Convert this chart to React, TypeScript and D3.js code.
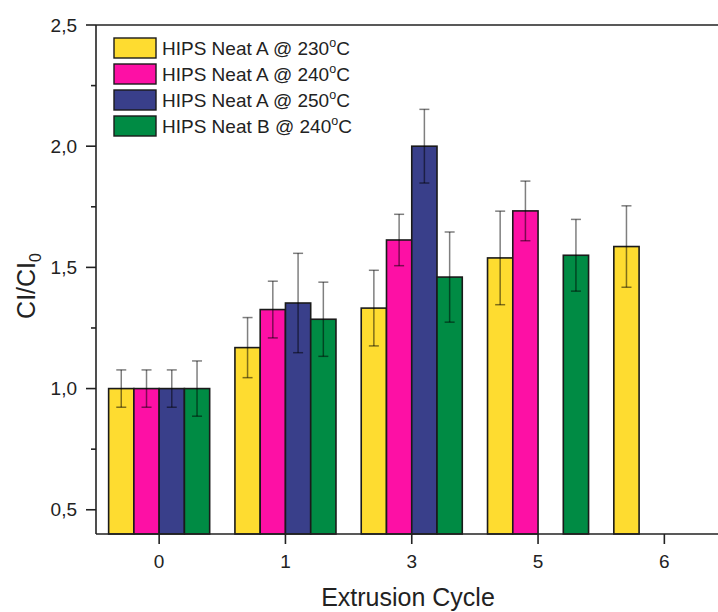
import React from "react";
import * as d3 from "d3";

const cycles = ["0", "1", "3", "5", "6"];
const seriesNames = [
  "HIPS Neat A @ 230",
  "HIPS Neat A @ 240",
  "HIPS Neat A @ 250",
  "HIPS Neat B @ 240",
];
const seriesColors = ["#FEDC30", "#FD10A5", "#393F8A", "#008B44"];

// null = not measured for that cycle
const neatA230 = [1.0, 1.169, 1.332, 1.539, 1.586];
const neatA240 = [1.0, 1.326, 1.613, 1.733, null];
const neatA250 = [1.0, 1.353, 2.0, null, null];
const neatB240 = [1.0, 1.286, 1.46, 1.55, null];

const errA230 = [0.077, 0.124, 0.156, 0.193, 0.168];
const errA240 = [0.077, 0.117, 0.106, 0.123, null];
const errA250 = [0.077, 0.205, 0.152, null, null];
const errB240 = [0.114, 0.153, 0.186, 0.148, null];

const values = [neatA230, neatA240, neatA250, neatB240];
const errors = [errA230, errA240, errA250, errB240];

const yTicks = [0.5, 1.0, 1.5, 2.0, 2.5];
const yMinorTicks = [0.75, 1.25, 1.75, 2.25];

const W = 718;
const H = 612;
const left = 96;
const top = 25;
const bottom = 534;

export default function App() {
  const x = d3
    .scaleBand<string>()
    .domain(cycles)
    .range([left, left + 5 * 126.3])
    .paddingInner(0.2)
    .paddingOuter(0.1);
  const xs = d3
    .scaleBand<number>()
    .domain(d3.range(seriesNames.length))
    .range([0, x.bandwidth()]);
  const y = d3.scaleLinear().domain([0.4, 2.5]).range([bottom, top]);
  const fmt = (v: number) => d3.format(".1f")(v).replace(".", ",");
  const font = "Liberation Sans, Arial, sans-serif";

  const bars: React.ReactNode[] = [];
  const errs: React.ReactNode[] = [];
  values.forEach((arr, s) => {
    arr.forEach((v, i) => {
      if (v == null) return;
      const bx = (x(cycles[i]) as number) + (xs(s) as number);
      const bw = xs.bandwidth();
      bars.push(
        <rect
          key={`b${s}-${i}`}
          x={bx}
          y={y(v)}
          width={bw}
          height={y(0.4) - y(v)}
          fill={seriesColors[s]}
          stroke="#1a1a1a"
          strokeWidth={1.6}
        />
      );
      const e = errors[s][i];
      if (e != null) {
        const cx = bx + bw / 2;
        const y1 = y(v + e);
        const y2 = y(v - e);
        errs.push(
          <g key={`e${s}-${i}`} stroke="#000" strokeOpacity={0.5} strokeWidth={1.5}>
            <line x1={cx} x2={cx} y1={y1} y2={y2} />
            <line x1={cx - 5} x2={cx + 5} y1={y1} y2={y1} />
            <line x1={cx - 5} x2={cx + 5} y1={y2} y2={y2} />
          </g>
        );
      }
    });
  });

  return (
    <svg
      width={W}
      height={H}
      style={{ position: "absolute", left: 0, top: 0, background: "#fff" }}
      fontFamily={font}
    >
      {bars}
      {errs}
      {/* axes frame */}
      <line x1={left} x2={W} y1={bottom} y2={bottom} stroke="#222" strokeWidth={1.6} />
      <line x1={left} x2={W} y1={top} y2={top} stroke="#222" strokeWidth={1.6} />
      <line x1={left} x2={left} y1={top} y2={bottom} stroke="#222" strokeWidth={1.6} />
      {yTicks.map((t) => (
        <g key={`yt${t}`}>
          <line x1={left - 10} x2={left} y1={y(t)} y2={y(t)} stroke="#222" strokeWidth={1.6} />
          <text
            x={left - 19}
            y={y(t)}
            dy="0.35em"
            textAnchor="end"
            fontSize={19}
            fill="#222"
          >
            {fmt(t)}
          </text>
        </g>
      ))}
      {yMinorTicks.map((t) => (
        <line
          key={`ym${t}`}
          x1={left - 5}
          x2={left}
          y1={y(t)}
          y2={y(t)}
          stroke="#222"
          strokeWidth={1.6}
        />
      ))}
      {cycles.map((c) => {
        const cx = (x(c) as number) + x.bandwidth() / 2;
        return (
          <g key={`xt${c}`}>
            <line x1={cx} x2={cx} y1={bottom} y2={bottom + 10} stroke="#222" strokeWidth={1.6} />
            <text x={cx} y={568} textAnchor="middle" fontSize={19} fill="#222">
              {c}
            </text>
          </g>
        );
      })}
      <text x={408} y={606} textAnchor="middle" fontSize={25} fill="#222">
        Extrusion Cycle
      </text>
      <text
        transform="translate(35,286) rotate(-90)"
        textAnchor="middle"
        fontSize={25}
        fill="#222"
      >
        CI/CI
        <tspan fontSize={16} dy={6}>
          0
        </tspan>
      </text>
      {/* legend */}
      {seriesNames.map((n, s) => {
        const ly = 38 + s * 26;
        return (
          <g key={`lg${s}`}>
            <rect
              x={114}
              y={ly}
              width={42}
              height={20}
              fill={seriesColors[s]}
              stroke="#1a1a1a"
              strokeWidth={1.4}
            />
            <text x={162} y={ly + 17} fontSize={19} fill="#222">
              {n}
              <tspan fontSize={12.5} dy={-8}>
                o
              </tspan>
              <tspan dy={8}>C</tspan>
            </text>
          </g>
        );
      })}
    </svg>
  );
}
